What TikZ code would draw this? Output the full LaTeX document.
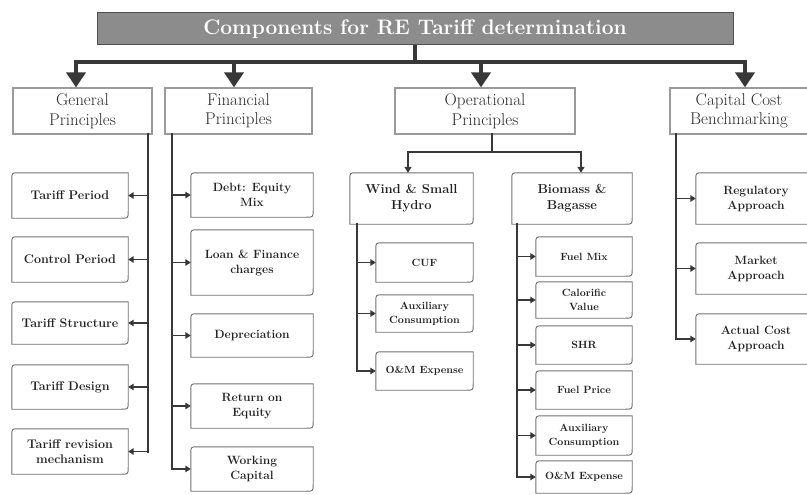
\documentclass[tikz,border=0pt]{standalone}
\usepackage{fontspec}
\usetikzlibrary{arrows.meta,calc}
\definecolor{ln}{HTML}{383838}
\definecolor{tf}{HTML}{8C8C8C}
\definecolor{tb}{HTML}{505050}
\definecolor{lb}{HTML}{9A9A9A}
\definecolor{lt}{HTML}{2A2A2A}
\definecolor{ct}{HTML}{222222}
\definecolor{cb}{HTML}{707070}
\newcommand\mkbox[7]{\node[#1, minimum width={#5-#3}, minimum height={#6-#4}] (#2) at ({(#3+#5)/2},{(#4+#6)/2}) {#7};}
\newcommand\rdiag[1]{\draw[cline] ([yshift=-7pt]#1.north west) .. controls (#1.north west) .. ([xshift=7pt]#1.north west) -- (#1.north east) -- ([yshift=7pt]#1.south east) .. controls (#1.south east) .. ([xshift=-7pt]#1.south east) -- (#1.south west) -- cycle;}
\begin{document}
\begin{tikzpicture}[x=1pt,y=-1pt,
  titlebox/.style={draw=tb, fill=tf, line width=1pt, text=white, font=\bfseries\fontsize{21}{24}\selectfont, inner sep=0},
  lone/.style={draw=lb, line width=1.2pt, fill=white, text=lt, align=center, font=\fontsize{17}{19.5}\selectfont, inner sep=0},
  cbox/.style={inner sep=0, align=center, text=ct, font=\bfseries\fontsize{12}{15}\selectfont},
  gbox/.style={cbox, font=\bfseries\fontsize{12.5}{15}\selectfont},
  obox/.style={cbox, font=\bfseries\fontsize{10.5}{14}\selectfont},
  sbox/.style={cbox, font=\bfseries\fontsize{13}{16}\selectfont},
  cline/.style={draw=cb, line width=0.9pt},
  big/.style={draw=ln, line width=4pt},
  bigarr/.style={big, -{Triangle[width=19pt,length=15pt]}},
  trunk/.style={draw=ln, line width=2.4pt, line cap=rect},
  medarr/.style={draw=ln, line width=2.2pt, -{Triangle[width=7pt,length=6pt]}},
  carr/.style={draw=ln, line width=1.8pt, -{Triangle[width=6.5pt,length=5.5pt]}},
]
\useasboundingbox (0,0) rectangle (807,495);
% title
\mkbox{titlebox}{title}{97}{13}{733}{45}{Components for RE Tariff determination}
% level 1
\mkbox{lone}{gp}{13}{88}{152}{134}{General\\Principles}
\mkbox{lone}{fp}{165}{88}{312}{134}{Financial\\Principles}
\mkbox{lone}{op}{395}{88}{575}{134}{Operational\\Principles}
\mkbox{lone}{cc}{670}{88}{808}{134}{Capital Cost\\Benchmarking}
% general children
\mkbox{gbox}{tp}{12}{173}{128}{218}{Tariff Period}
\mkbox{gbox}{cp}{12}{237}{128}{282}{Control Period}
\mkbox{gbox}{ts}{12}{302}{128}{344}{Tariff Structure}
\mkbox{gbox}{td}{12}{365}{128}{409}{Tariff Design}
\mkbox{gbox}{trm}{12}{429}{128}{474}{Tariff revision\\mechanism}
% financial children
\mkbox{cbox}{de}{191}{173}{313}{217}{Debt: Equity\\Mix}
\mkbox{cbox}{lf}{191}{230}{313}{295}{Loan \& Finance\\charges}
\mkbox{cbox}{dep}{191}{314}{313}{357}{Depreciation}
\mkbox{cbox}{roe}{191}{384}{313}{428}{Return on\\Equity}
\mkbox{cbox}{wc}{191}{447}{313}{491}{Working\\Capital}
% operational
\mkbox{sbox}{ws}{350}{173}{473}{224}{Wind \& Small\\Hydro}
\mkbox{sbox}{bb}{512}{173}{632}{224}{Biomass \&\\Bagasse}
\mkbox{obox}{cuf}{376}{243}{473}{282}{CUF}
\mkbox{obox}{auxa}{376}{295}{473}{332}{Auxiliary\\Consumption}
\mkbox{obox}{oma}{376}{352}{473}{390}{O\&M Expense}
\mkbox{obox}{fm}{536}{237}{632}{276}{Fuel Mix}
\mkbox{obox}{cv}{536}{282}{632}{318}{Calorific\\Value}
\mkbox{obox}{shr}{536}{326}{632}{364}{SHR}
\mkbox{obox}{fpr}{536}{371}{632}{409}{Fuel Price}
\mkbox{obox}{auxb}{536}{416}{632}{455}{Auxiliary\\Consumption}
\mkbox{obox}{omb}{536}{461}{632}{493}{O\&M Expense}
% capital children
\mkbox{cbox}{ra}{696}{173}{816}{224}{Regulatory\\Approach}
\mkbox{cbox}{ma}{696}{243}{816}{294}{Market\\Approach}
\mkbox{cbox}{aca}{696}{314}{816}{364}{Actual Cost\\Approach}
% outlines
\foreach \n in {tp,cp,ts,td,trm,de,lf,dep,roe,wc,ws,bb,cuf,auxa,oma,fm,cv,shr,fpr,auxb,omb,ra,ma,aca} {\rdiag{\n}}
% top connectors
\coordinate (bar) at (0,62);
\draw[big] (title.south) -- (title.south |- bar);
\coordinate (ag) at (76,62);
\coordinate (af) at (234,62);
\coordinate (ao) at (481,62);
\coordinate (ac) at (745,62);
\draw[big] ([xshift=-2pt]ag) -- ([xshift=2pt]ac);
\draw[bigarr] (ag) -- (ag |- gp.north);
\draw[bigarr] (af) -- (af |- fp.north);
\draw[bigarr] (ao) -- (ao |- op.north);
\draw[bigarr] (ac) -- (ac |- cc.north);
% operational split
\coordinate (os) at (492,134);
\coordinate (opl) at (408,152);
\coordinate (opr) at (581,152);
\draw[trunk] (os) -- (os |- opl);
\draw[trunk] (opl) -- (opr);
\draw[medarr] (opl) -- (opl |- ws.north);
\draw[medarr] (opr) -- (opr |- bb.north);
% general trunk
\coordinate (gx) at (148,0);
\draw[trunk] (gx |- gp.south) -- (gx |- trm.east);
\foreach \n in {tp,cp,ts,td,trm} {\draw[carr] (gx |- \n.east) -- (\n.east);}
% financial trunk
\coordinate (fx) at (172,0);
\draw[trunk] (fx |- fp.south) -- (fx |- wc.west);
\foreach \n in {de,lf,dep,roe,wc} {\draw[carr] (fx |- \n.west) -- (\n.west);}
% wind trunk
\coordinate (wx) at (357,0);
\draw[trunk] (wx |- ws.south) -- (wx |- oma.west);
\foreach \n in {cuf,auxa,oma} {\draw[carr] (wx |- \n.west) -- (\n.west);}
% biomass trunk
\coordinate (bx) at (517,0);
\draw[trunk] (bx |- bb.south) -- (bx |- omb.west);
\foreach \n in {fm,cv,shr,fpr,auxb,omb} {\draw[carr] (bx |- \n.west) -- (\n.west);}
% capital trunk
\coordinate (cx) at (676,0);
\draw[trunk] (cx |- cc.south) -- (cx |- aca.west);
\foreach \n in {ra,ma,aca} {\draw[carr] (cx |- \n.west) -- (\n.west);}
\end{tikzpicture}
\end{document}
